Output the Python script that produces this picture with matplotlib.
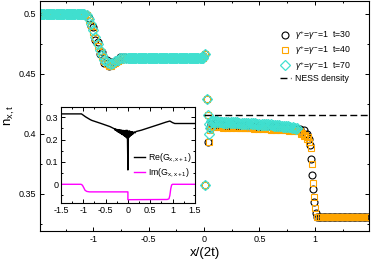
import numpy as np
import matplotlib
matplotlib.use("Agg")
import matplotlib.pyplot as plt
from matplotlib.ticker import MultipleLocator, FuncFormatter

plt.rcParams['font.family'] = ['Liberation Sans', 'DejaVu Sans']
plt.rcParams['mathtext.fontset'] = 'custom'
plt.rcParams['mathtext.rm'] = 'Liberation Sans'
plt.rcParams['mathtext.it'] = 'Liberation Sans:italic'
plt.rcParams['axes.unicode_minus'] = False

# ---- main panel: density profiles n_{x,t} vs x/(2t) ----
left_x = np.arange(-1.48, -1.075, 0.02)     # left plateau sites
left_x70 = np.arange(-1.48, -1.075, 0.01)
descent_x = [-1.06, -1.04, -1.02, -1.00, -0.98, -0.96, -0.94, -0.92, -0.90,
             -0.88, -0.86, -0.84, -0.82, -0.80, -0.78, -0.76, -0.74, -0.72]
mid_x = np.arange(-0.70, -0.005, 0.02)      # middle plateau sites
mid_x70 = np.arange(-0.70, -0.005, 0.01)
band_x = np.arange(0.06, 0.845, 0.02)       # right band sites
band_x70 = np.arange(0.06, 0.845, 0.01)
right_x = np.arange(1.035, 1.485, 0.015)    # right plateau sites

n_left = 0.5
n_mid = 0.4636
n_right = 0.331

descent30 = [0.499, 0.497, 0.490, 0.489, 0.478, 0.477, 0.467, 0.468, 0.459,
             0.462, 0.457, 0.460, 0.458, 0.461, 0.461, 0.464, 0.463, 0.464]
descent40 = [0.499, 0.495, 0.491, 0.485, 0.480, 0.473, 0.469, 0.464, 0.461,
             0.458, 0.457, 0.457, 0.458, 0.459, 0.461, 0.462, 0.463, 0.4635]
descent70 = [0.499, 0.496, 0.492, 0.487, 0.481, 0.475, 0.470, 0.466, 0.462,
             0.460, 0.459, 0.4585, 0.459, 0.4605, 0.462, 0.463, 0.4635, 0.4636]

# edge of the middle plateau and isolated sites next to x=0
edge30_x = [-0.005, 0.008, 0.006, 0.027, 0.040, 0.050]
edge30_y = [0.465, 0.467, 0.357, 0.429, 0.393, 0.405]
edge40_x = [-0.005, 0.008, 0.006, 0.027, 0.038, 0.045, 0.052]
edge40_y = [0.465, 0.467, 0.357, 0.429, 0.416, 0.393, 0.403]
edge70_x = [-0.005, 0.008, 0.006, 0.027, 0.036, 0.041, 0.046, 0.052]
edge70_y = [0.465, 0.467, 0.357, 0.429, 0.416, 0.408, 0.400, 0.405]

band30 = [0.4085, 0.4070, 0.4088, 0.4072, 0.4084, 0.4070, 0.4082, 0.4068,
          0.4080, 0.4067, 0.4079, 0.4066, 0.4077, 0.4065, 0.4076, 0.4064,
          0.4075, 0.4062, 0.4073, 0.4061, 0.4072, 0.4060, 0.4070, 0.4058,
          0.4068, 0.4057, 0.4066, 0.4055, 0.4064, 0.4053, 0.4062, 0.4050,
          0.4060, 0.4048, 0.4057, 0.4045, 0.4055, 0.4042, 0.4050, 0.4040]
band40 = [0.4065, 0.4057, 0.4063, 0.4055, 0.4061, 0.4053, 0.4059, 0.4052,
          0.4058, 0.4050, 0.4056, 0.4049, 0.4055, 0.4047, 0.4053, 0.4046,
          0.4052, 0.4045, 0.4050, 0.4043, 0.4049, 0.4042, 0.4047, 0.4040,
          0.4045, 0.4038, 0.4043, 0.4036, 0.4041, 0.4034, 0.4039, 0.4032,
          0.4037, 0.4030, 0.4035, 0.4027, 0.4032, 0.4025, 0.4029, 0.4022]
band70 = [0.4110, 0.4100, 0.4108, 0.4098, 0.4106, 0.4097, 0.4104, 0.4096,
          0.4103, 0.4095, 0.4102, 0.4094, 0.4101, 0.4093, 0.4100, 0.4092,
          0.4099, 0.4091, 0.4098, 0.4090, 0.4097, 0.4089, 0.4096, 0.4088,
          0.4095, 0.4087, 0.4094, 0.4086, 0.4093, 0.4085, 0.4092, 0.4084,
          0.4091, 0.4083, 0.4090, 0.4082, 0.4089, 0.4081, 0.4088, 0.4080,
          0.4087, 0.4079, 0.4086, 0.4078, 0.4085, 0.4077, 0.4084, 0.4076,
          0.4083, 0.4075, 0.4082, 0.4074, 0.4081, 0.4073, 0.4079, 0.4071,
          0.4077, 0.4069, 0.4075, 0.4067, 0.4073, 0.4065, 0.4071, 0.4063,
          0.4069, 0.4061, 0.4067, 0.4059, 0.4065, 0.4057, 0.4062, 0.4054,
          0.4059, 0.4051, 0.4056, 0.4048, 0.4052, 0.4044, 0.4048]

# front near x/(2t)=1 (t=70 data stops before it)
front30_x = [0.867, 0.883, 0.900, 0.917, 0.933, 0.945, 0.955, 0.966, 0.976,
             0.982, 0.991, 1.006, 1.021]
front30_y = [0.404, 0.401, 0.403, 0.399, 0.400, 0.396, 0.391, 0.379, 0.366,
             0.354, 0.343, 0.334, 0.331]
front40_x = [0.862, 0.875, 0.887, 0.900, 0.912, 0.925, 0.937, 0.947, 0.962,
             0.973, 0.982, 0.991, 1.000, 1.018]
front40_y = [0.402, 0.400, 0.401, 0.398, 0.399, 0.396, 0.397, 0.393, 0.388,
             0.375, 0.359, 0.347, 0.338, 0.331]

ness_x = [0.0, 1.5]
ness_y = [0.4158, 0.4158]

# ---- inset: nearest-neighbour correlation G_{x,x+1} ----
re_x = [-1.5, -1.04, -0.95, -0.85, -0.81, -0.6, -0.4,
        -0.30, -0.29, -0.28, -0.27, -0.26, -0.25, -0.24, -0.23, -0.22, -0.21,
        -0.20, -0.19, -0.18, -0.17, -0.16, -0.15, -0.14, -0.13, -0.12, -0.11,
        -0.10, -0.09, -0.08, -0.07, -0.06, -0.05, -0.04, -0.03, -0.02, -0.01,
        0.0, 0.01, 0.02, 0.03, 0.04, 0.05, 0.06, 0.07, 0.08, 0.09, 0.10,
        0.12, 0.14, 0.16, 0.18, 0.3, 0.5, 0.7, 0.85, 0.94, 1.0, 1.05, 1.5]
re_y = [0.315, 0.315, 0.302, 0.290, 0.286, 0.272, 0.258,
        0.248, 0.243, 0.248, 0.241, 0.246, 0.238, 0.245, 0.235, 0.244, 0.234,
        0.244, 0.231, 0.243, 0.228, 0.243, 0.226, 0.242, 0.223, 0.241, 0.221,
        0.241, 0.218, 0.240, 0.215, 0.241, 0.212, 0.241, 0.208, 0.242, 0.205,
        0.064, 0.207, 0.239, 0.211, 0.238, 0.215, 0.236, 0.219, 0.235, 0.222,
        0.235, 0.226, 0.235, 0.230, 0.236, 0.242, 0.255, 0.268, 0.278, 0.283,
        0.276, 0.272, 0.272]
im_x = [-1.5, -1.05, -1.02, -0.99, -0.96, -0.92, -0.86, 0.0, 0.0, 0.88,
        0.92, 0.94, 0.96, 0.98, 1.0, 1.5]
im_y = [0.0, 0.0, -0.004, -0.015, -0.027, -0.032, -0.034, -0.034, -0.069,
        -0.068, -0.065, -0.05, -0.02, -0.003, 0.0, 0.0]

orange = '#FFA500'
turq = '#40E0D0'

fig = plt.figure(figsize=(3.74, 2.59), dpi=100)
ax = fig.add_axes([0.107, 0.108, 0.880, 0.889])

x30 = np.concatenate([left_x, descent_x, mid_x, edge30_x, band_x, front30_x, right_x])
y30 = np.concatenate([[n_left] * len(left_x), descent30, [n_mid] * len(mid_x),
                      edge30_y, band30, front30_y, [n_right] * len(right_x)])
x40 = np.concatenate([left_x + 0.007, descent_x, mid_x + 0.007, edge40_x,
                      band_x + 0.007, front40_x, right_x + 0.007])
y40 = np.concatenate([[n_left] * len(left_x), descent40, [n_mid] * len(mid_x),
                      edge40_y, band40, front40_y, [n_right] * len(right_x)])
x70 = np.concatenate([left_x70, descent_x, mid_x70, edge70_x, band_x70])
y70 = np.concatenate([[n_left] * len(left_x70), descent70, [n_mid] * len(mid_x70),
                      edge70_y, band70])

ax.plot(x30, y30, 'o', ms=5.0, mfc='none', mec='black', mew=0.8,
        label=r'$\gamma^{+}$=$\gamma^{-}$=1  t=30')
ax.plot(x40, y40, 's', ms=4.5, mfc='none', mec=orange, mew=0.8,
        label=r'$\gamma^{+}$=$\gamma^{-}$=1  t=40')
ax.plot(x70, y70, 'D', ms=4.6, mfc='none', mec=turq, mew=0.9,
        label=r'$\gamma^{+}$=$\gamma^{-}$=1  t=70')
ax.plot(ness_x, ness_y, color='black', lw=1.0, dashes=(5, 2.5),
        label='NESS density')

ax.set_xlim(-1.48, 1.49)
ax.set_ylim(0.319, 0.511)
ax.xaxis.set_major_locator(MultipleLocator(0.5))
ax.xaxis.set_minor_locator(MultipleLocator(0.25))
ax.set_yticks([0.35, 0.4, 0.45, 0.5])
ax.set_yticklabels(['0.35', '0.4', '0.45', '0.5'])
ax.yaxis.set_minor_locator(MultipleLocator(0.025))
fmt = FuncFormatter(lambda v, p: '%g' % round(v, 6))
ax.xaxis.set_major_formatter(fmt)
ax.tick_params(which='both', direction='in', top=True, right=True,
               labelsize=6.5, width=0.7, pad=3)
ax.tick_params(which='major', length=3)
ax.tick_params(which='minor', length=1.6)
for s in ax.spines.values():
    s.set_linewidth(0.8)
ax.set_xlabel('x/(2t)', fontsize=9.5, labelpad=2)
ax.set_ylabel(r'$\mathrm{n}_{\mathrm{x,t}}$', fontsize=9.5, labelpad=1)

ax.legend(loc='upper right', bbox_to_anchor=(0.965, 0.905), frameon=False,
          fontsize=6.3, handlelength=1.3, handletextpad=0.5, labelspacing=0.15,
          borderpad=0.2)

# inset
ins = fig.add_axes([0.163, 0.216, 0.358, 0.371])
ins.plot(re_x, re_y, color='black', lw=1.0, label=r'Re(G$_{\mathrm{x,x+1}}$)')
ins.plot(im_x, im_y, color='magenta', lw=1.0, label=r'Im(G$_{\mathrm{x,x+1}}$)')
ins.set_xlim(-1.5, 1.5)
ins.set_ylim(-0.084, 0.346)
ins.xaxis.set_major_locator(MultipleLocator(0.5))
ins.xaxis.set_minor_locator(MultipleLocator(0.25))
ins.yaxis.set_major_locator(MultipleLocator(0.1))
ins.yaxis.set_minor_locator(MultipleLocator(0.05))
ins.xaxis.set_major_formatter(fmt)
ins.yaxis.set_major_formatter(fmt)
ins.tick_params(which='both', direction='in', top=True, right=True,
                labelsize=6.5, width=0.7, pad=2)
ins.tick_params(which='major', length=3)
ins.tick_params(which='minor', length=1.6)
for s in ins.spines.values():
    s.set_linewidth(0.8)
ins.legend(loc='upper left', bbox_to_anchor=(0.5, 0.6), frameon=False,
           fontsize=6.3, handlelength=1.2, handletextpad=0.4, labelspacing=0.3,
           borderpad=0.2)

fig.savefig('out.png', dpi=100)
